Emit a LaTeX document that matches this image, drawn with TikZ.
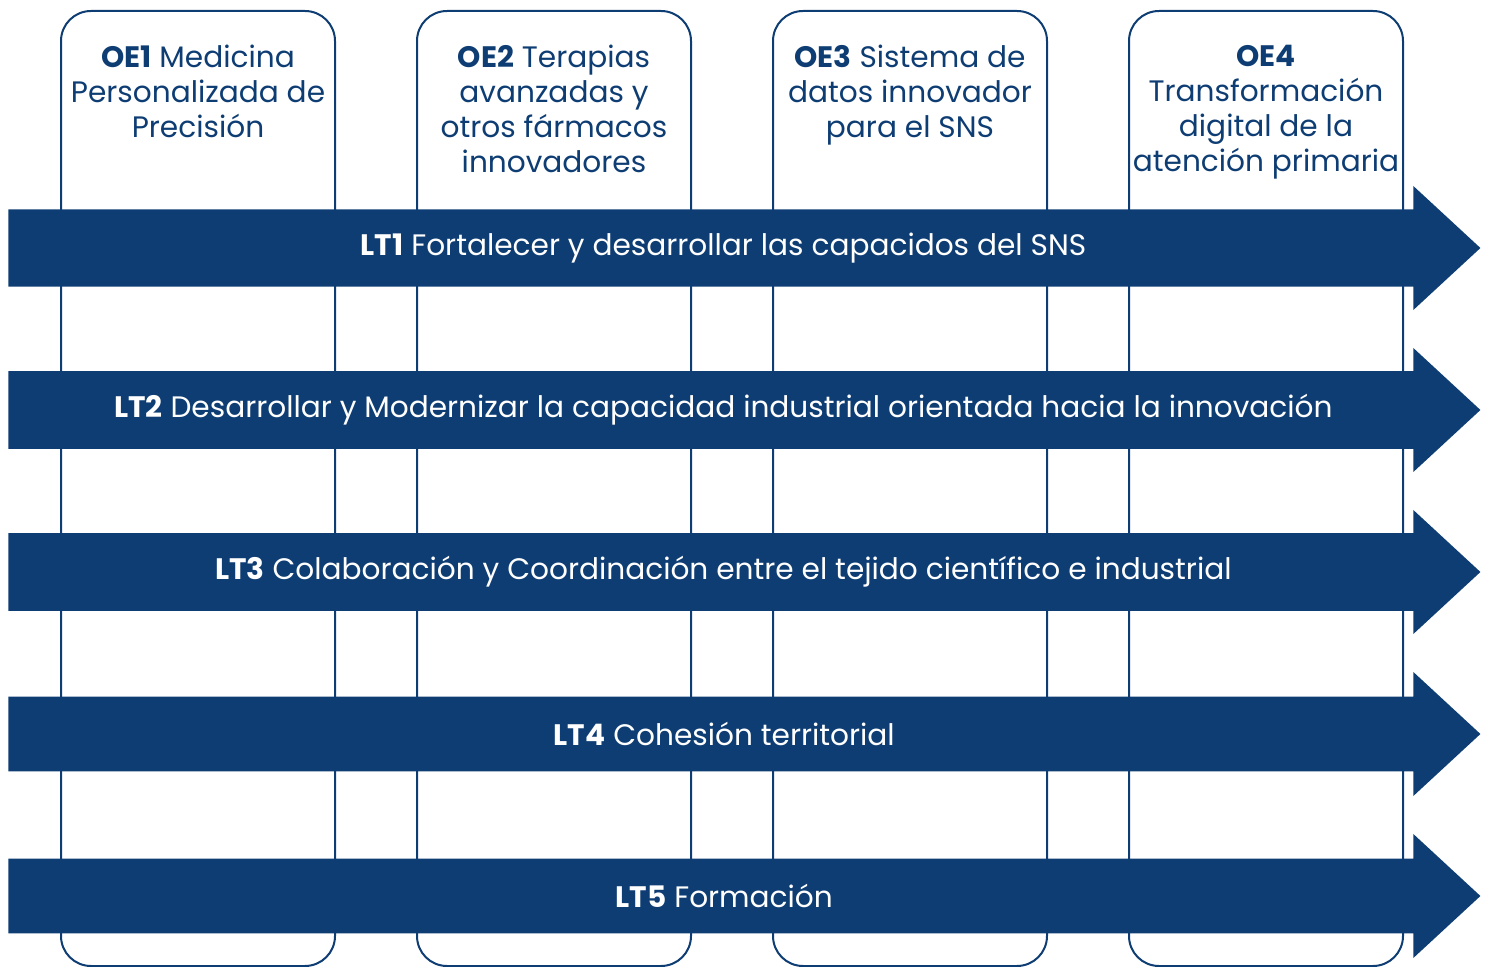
\documentclass[tikz,border=0pt]{standalone}
\usepackage{fontspec}
\setmainfont{Poppins}
\usetikzlibrary{shapes.arrows,positioning}
\definecolor{oeblue}{HTML}{0E3D73}

\begin{document}
\begin{tikzpicture}[x=0.5pt,y=-0.5pt]
      \useasboundingbox (0,0) rectangle (1490,967);
      \begin{scope}[every node/.style={draw=oeblue,line width=1pt,rounded corners=15pt,
          minimum width=137pt,minimum height=477.5pt}]
        \node (OE1) at (198,488.5) {};
        \node (OE2) at (554,488.5) {};
        \node (OE3) at (910,488.5) {};
        \node (OE4) at (1266,488.5) {};
      \end{scope}
      \begin{scope}[every node/.style={text=oeblue,align=center,inner sep=0pt,
          font=\fontsize{14.8}{17.5}\selectfont}]
        \node (T1) [below=17.5pt of OE1.north] {\textbf{OE1} Medicina\\Personalizada de\\Precisión};
        \node (T2) [below=17.5pt of OE2.north] {\textbf{OE2} Terapias\\avanzadas y\\otros fármacos\\innovadores};
        \node (T3) [below=17.5pt of OE3.north] {\textbf{OE3} Sistema de\\datos innovador\\para el SNS};
        \node (T4) [below=17.5pt of OE4.north] {\textbf{OE4}\\Transformación\\digital de la\\atención primaria};
      \end{scope}
      \begin{scope}[every node/.style={single arrow,fill=oeblue,text=white,anchor=tail,
          minimum height=736pt,minimum width=62pt,single arrow head extend=11pt,
          single arrow tip angle=85.5,inner ysep=10.5pt,
          font=\fontsize{14.8}{17.5}\selectfont}]
        \node (LT1) at (8,248) {\textbf{LT1} Fortalecer y desarrollar las capacidos del SNS};
        \node (LT2) at (8,410) {\textbf{LT2} Desarrollar y Modernizar la capacidad industrial orientada hacia la innovación};
        \node (LT3) at (8,572) {\textbf{LT3} Colaboración y Coordinación entre el tejido científico e industrial};
        \node (LT4) at (8,734) {\textbf{LT4} Cohesión territorial};
        \node (LT5) at (8,896) {\textbf{LT5} Formación};
      \end{scope}
    \end{tikzpicture}
\end{document}
